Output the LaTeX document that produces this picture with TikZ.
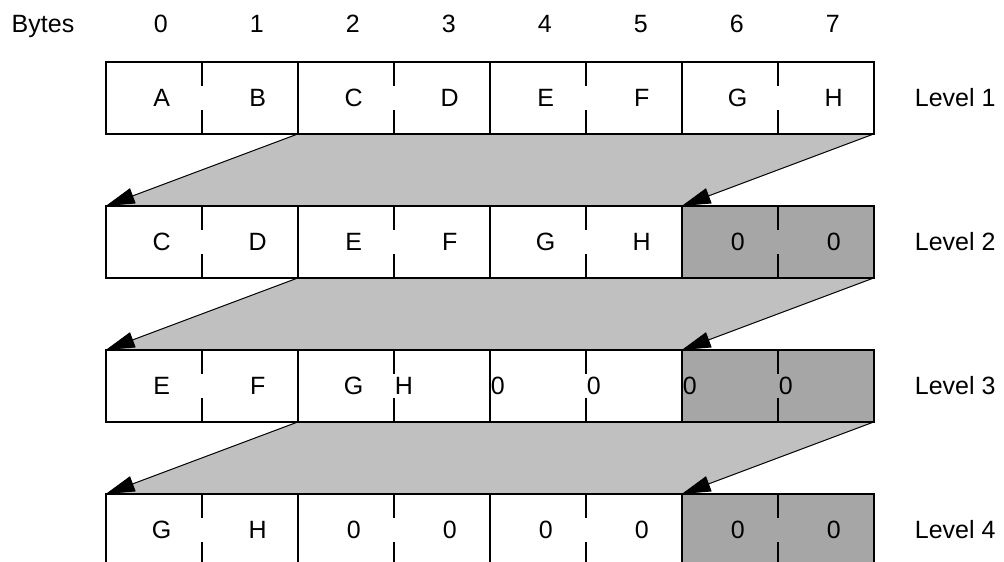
\documentclass[tikz,border=0pt]{standalone}
\usepackage{fontspec}
\setmainfont{Liberation Sans}
\usepackage{xcolor}
\usepackage{tikz}
\usetikzlibrary{positioning,arrows.meta}
\definecolor{shiftgray}{RGB}{192,192,192}
\definecolor{padgray}{RGB}{166,166,166}

\begin{document}
\begin{tikzpicture}[x=1pt,y=-1pt,
  font=\fontsize{25}{30}\selectfont,
  cell/.style={minimum width=96pt,minimum height=72pt,inner sep=0pt,outer sep=0pt},
  txt/.style={inner sep=0pt},
  frame/.style={line width=2pt},
  arr/.style={-{Triangle[length=29pt,width=16pt]},line width=1pt}]
  \useasboundingbox (0,0) rectangle (1004,562);
  \foreach \r in {1,...,4}
    \foreach \i in {0,...,7}
      \node[cell] (c\r-\i) at ({153.7+96*\i},{98+144*(\r-1)}) {};
  \foreach \r in {2,3,4}
    \fill[padgray] (c\r-6.north west) rectangle (c\r-7.south east);
  \foreach \r/\s in {1/2,2/3,3/4}
    \fill[shiftgray] (c\r-2.south west) -- (c\r-7.south east) -- (c\s-6.north west) -- (c\s-0.north west) -- cycle;
  \foreach \r in {1,...,4} {
    \draw[frame] (c\r-0.north west) rectangle (c\r-7.south east);
    \foreach \i in {2,4,6}
      \draw[frame] (c\r-\i.north west) -- (c\r-\i.south west);
    \foreach \i in {1,3,5,7}
      \draw[frame] (c\r-\i.north west) -- ++(0,24) (c\r-\i.south west) -- ++(0,-24);
    \node[txt,right=41pt of c\r-7] (lv\r) {Level \r};
  }
  \foreach \r/\s in {1/2,2/3,3/4} {
    \draw[arr] (c\r-2.south west) -- (c\s-0.north west);
    \draw[arr] (c\r-7.south east) -- (c\s-6.north west);
  }
  \node[txt,anchor=base] (bytes) at (43,32) {Bytes};
  \foreach \i in {0,...,7}
    \node[txt,anchor=base] (n\i) at ({160.7+96*\i},32) {\i};
  \foreach \ch [count=\i from 0] in {A,B,C,D,E,F,G,H}
    \node[txt] (t1-\i) at ([xshift=8pt]c1-\i.center) {\ch};
  \foreach \ch [count=\i from 0] in {C,D,E,F,G,H,0,0}
    \node[txt] (t2-\i) at ([xshift=8pt]c2-\i.center) {\ch};
  \foreach \ch [count=\i from 0] in {E,F,G}
    \node[txt] (t3-\i) at ([xshift=8pt]c3-\i.center) {\ch};
  \foreach \ch [count=\i from 3] in {H,0,0,0,0}
    \node[txt,anchor=west] (t3-\i) at ([xshift=1pt]c3-\i.west) {\ch};
  \foreach \ch [count=\i from 0] in {G,H,0,0,0,0,0,0}
    \node[txt] (t4-\i) at ([xshift=8pt]c4-\i.center) {\ch};
\end{tikzpicture}
\end{document}
